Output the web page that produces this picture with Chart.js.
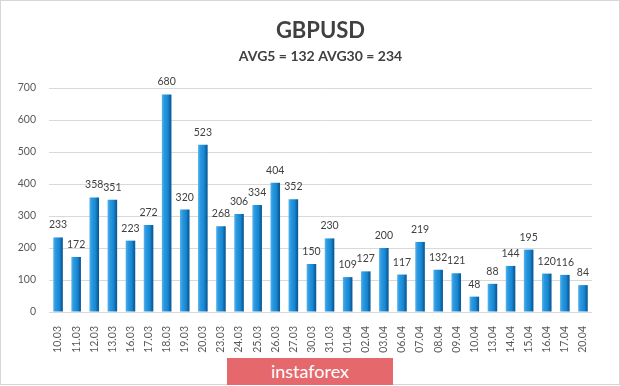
<!DOCTYPE html>
<html>
<head>
<meta charset="utf-8">
<script src="https://cdn.jsdelivr.net/npm/chart.js@4/dist/chart.umd.min.js"></script>
<style>
    body { margin: 0; background: #ffffff; }
    #wrap { position: relative; width: 620px; height: 386px; overflow: hidden; }
    #chart { position: absolute; left: 0; top: 0; }
    #frame {
        position: absolute; left: 0; top: 0; width: 620px; height: 385px;
        box-sizing: border-box; border: 1px solid #d6d6d6; pointer-events: none;
    }
    #badge {
        position: absolute; left: 227px; top: 358px; width: 166px; height: 27px;
        background: #e4686c; color: #ffffff; font: 18px Lato, sans-serif;
        text-align: center; line-height: 26px;
    }
</style>
</head>
<body>
<div id="wrap">
    <canvas id="chart" width="620" height="386"></canvas>
    <div id="frame"></div>
    <div id="badge">instaforex</div>
</div>
<script>
// Chart data
const dates = [
    '10.03', '11.03', '12.03', '13.03', '16.03', '17.03', '18.03', '19.03', '20.03', '23.03',
    '24.03', '25.03', '26.03', '27.03', '30.03', '31.03', '01.04', '02.04', '03.04', '06.04',
    '07.04', '08.04', '09.04', '10.04', '13.04', '14.04', '15.04', '16.04', '17.04', '20.04'
];
const ranges = [
    233, 172, 358, 351, 223, 272, 680, 320, 523, 268,
    306, 334, 404, 352, 150, 230, 109, 127, 200, 117,
    219, 132, 121, 48, 88, 144, 195, 120, 116, 84
];
const yTicks = [0, 100, 200, 300, 400, 500, 600, 700];
const titleText = 'GBPUSD';
const subtitleText = 'AVG5 = 132 AVG30 = 234';

const FONT = 'Lato, "Liberation Sans", sans-serif';

// Shaded bar fill (light left edge, dark right edge)
function barFill(context) {
    const chart = context.chart;
    if (!chart.chartArea || !chart.scales.x) return '#1a8bd6';
    const meta = chart.getDatasetMeta(0);
    const x = chart.scales.x.getPixelForValue(context.dataIndex);
    const half = 5;
    const g = chart.ctx.createLinearGradient(x - half, 0, x + half, 0);
    g.addColorStop(0, '#5cb6ee');
    g.addColorStop(0.25, '#2b99e1');
    g.addColorStop(0.65, '#1686d0');
    g.addColorStop(0.8, '#0f69ab');
    g.addColorStop(1, '#0a5592');
    return g;
}

// Value labels above bars
const valueLabels = {
    id: 'valueLabels',
    afterDatasetsDraw(chart) {
        const ctx = chart.ctx;
        const meta = chart.getDatasetMeta(0);
        ctx.save();
        ctx.font = '10.5px ' + FONT;
        ctx.fillStyle = '#404040';
        ctx.textAlign = 'center';
        ctx.textBaseline = 'alphabetic';
        meta.data.forEach((bar, i) => {
            ctx.fillText(String(ranges[i]), bar.x, bar.y - 9);
        });
        ctx.restore();
    }
};

new Chart(document.getElementById('chart'), {
    type: 'bar',
    data: {
        labels: dates,
        datasets: [{
            data: ranges,
            backgroundColor: barFill,
            borderWidth: 0,
            categoryPercentage: 1,
            barPercentage: 0.53
        }]
    },
    options: {
        responsive: false,
        animation: false,
        layout: { padding: { left: 0, right: 28, top: 0, bottom: 0 } },
        plugins: {
            legend: { display: false },
            tooltip: { enabled: false },
            title: {
                display: true,
                text: titleText,
                fullSize: false,
                color: '#404040',
                font: { family: FONT, size: 22, weight: 'bold', lineHeight: 1.2 },
                padding: { top: 18, bottom: 0 }
            },
            subtitle: {
                display: true,
                text: subtitleText,
                fullSize: false,
                color: '#404040',
                font: { family: FONT, size: 14, weight: 'bold', lineHeight: 1.2 },
                padding: { top: 4, bottom: 22.8 }
            }
        },
        scales: {
            x: {
                grid: { display: false },
                border: { display: false },
                ticks: {
                    color: '#595959',
                    font: { family: FONT, size: 10.5 },
                    minRotation: 90,
                    maxRotation: 90,
                    autoSkip: false,
                    padding: 6
                },
                afterFit(scale) { scale.height = 74; }
            },
            y: {
                min: 0,
                max: 700,
                afterBuildTicks(scale) {
                    scale.ticks = yTicks.map(v => ({ value: v }));
                },
                grid: { color: '#d9d9d9', lineWidth: 1, drawTicks: false },
                border: { display: false },
                ticks: {
                    color: '#595959',
                    font: { family: FONT, size: 10.5 },
                    padding: 13
                },
                afterFit(scale) { scale.width = 49; }
            }
        }
    },
    plugins: [valueLabels]
});
</script>
</body>
</html>
